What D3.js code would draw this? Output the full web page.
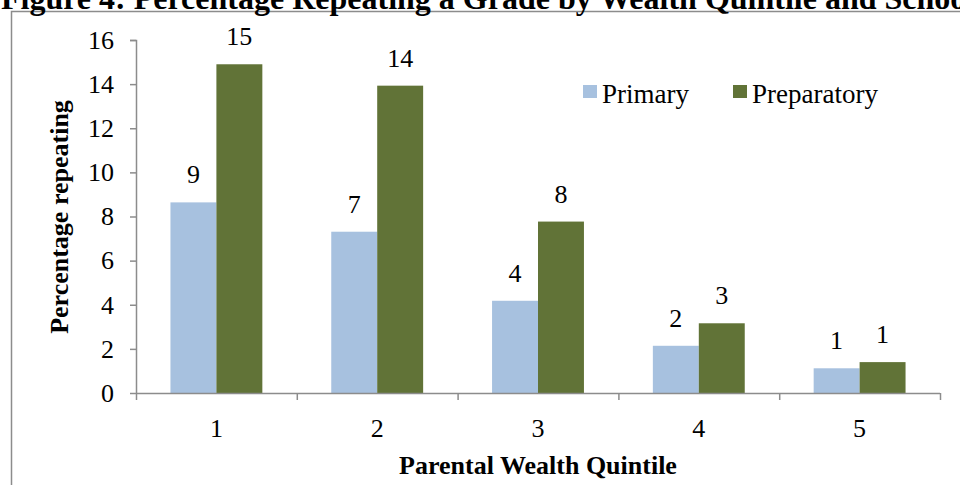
<!DOCTYPE html>
<html>
<head>
<meta charset="utf-8">
<script src="https://cdn.jsdelivr.net/npm/d3@7"></script>
<style>
  html, body { margin: 0; padding: 0; background: #fff; overflow: hidden; }
  svg { display: block; }
  text { font-family: "Liberation Serif", "Times New Roman", serif; fill: #000; }
</style>
</head>
<body>
<svg id="chart" width="960" height="485"></svg>
<script>
const titleText = "Figure 4: Percentage Repeating a Grade by Wealth Quintile and School";
const categories = ["1", "2", "3", "4", "5"];
const seriesNames = ["Primary", "Preparatory"];
const primaryValues = [8.64, 7.31, 4.18, 2.14, 1.12];
const preparatoryValues = [14.9, 13.93, 7.77, 3.16, 1.4];
const yTicks = [0, 2, 4, 6, 8, 10, 12, 14, 16];
const yAxisTitle = "Percentage repeating";
const xAxisTitle = "Parental Wealth Quintile";
const colors = ["#A7C1DF", "#617337"];

const svg = d3.select("#chart");
const gridColor = "#8c8c8c";

// frame
svg.append("rect").attr("x", 11.5).attr("y", 11.5).attr("width", 1000).attr("height", 500)
  .attr("fill", "none").attr("stroke", gridColor).attr("stroke-width", 1.5);

// title (cut off at top, as in reference)
svg.append("text").attr("x", 1).attr("y", 9)
  .attr("font-size", 32).attr("font-weight", "bold").text(titleText);

const x = d3.scaleBand().domain(categories).range([136, 940]).paddingInner(0).paddingOuter(0);
const xs = d3.scaleBand().domain(seriesNames).range([0, x.bandwidth()]).paddingInner(0).paddingOuter(0.75);
const y = d3.scaleLinear().domain([0, 16]).range([393, 40]);

// y axis
const yAxis = svg.append("g").attr("transform", "translate(136,0)")
  .call(d3.axisLeft(y).tickValues(yTicks).tickSize(6).tickPadding(16).tickFormat(d3.format("d")));
yAxis.select(".domain").attr("stroke", gridColor).attr("stroke-width", 1.5).attr("d", "M-6,40.5H0.5V393.5");
yAxis.selectAll(".tick line").attr("stroke", gridColor).attr("stroke-width", 1.5);
yAxis.selectAll(".tick text").attr("font-size", 26).attr("font-family", "Liberation Serif, Times New Roman, serif").attr("fill", "#000");

// bars
const data = categories.map((c, i) => ({ cat: c, vals: [primaryValues[i], preparatoryValues[i]] }));
const groups = svg.append("g").selectAll("g").data(data).join("g")
  .attr("transform", d => `translate(${x(d.cat)},0)`);
groups.selectAll("rect").data(d => d.vals.map((v, j) => ({ s: seriesNames[j], v, j })))
  .join("rect")
  .attr("x", d => xs(d.s))
  .attr("width", xs.bandwidth())
  .attr("y", d => y(d.v))
  .attr("height", d => y(0) - y(d.v))
  .attr("fill", d => colors[d.j]);
groups.selectAll("text").data(d => d.vals.map((v, j) => ({ s: seriesNames[j], v, j })))
  .join("text")
  .attr("x", d => xs(d.s) + xs.bandwidth() / 2)
  .attr("y", d => y(d.v) - 19)
  .attr("text-anchor", "middle")
  .attr("font-size", 26)
  .text(d => d3.format(".0f")(d.v));

// x axis
const xAxisG = svg.append("g").attr("transform", "translate(0,393)");
xAxisG.append("line").attr("x1", 136).attr("x2", 940).attr("y1", 0.5).attr("y2", 0.5)
  .attr("stroke", gridColor).attr("stroke-width", 1.5);
const boundaries = categories.map(c => x(c)).concat([x(categories[categories.length - 1]) + x.bandwidth()]);
xAxisG.selectAll(".xt").data(boundaries).join("line").attr("class", "xt")
  .attr("x1", d => d + 0.5).attr("x2", d => d + 0.5).attr("y1", 0).attr("y2", 7)
  .attr("stroke", gridColor).attr("stroke-width", 1.5);
xAxisG.selectAll(".xl").data(categories).join("text").attr("class", "xl")
  .attr("x", d => x(d) + x.bandwidth() / 2).attr("y", 44)
  .attr("text-anchor", "middle").attr("font-size", 26).text(d => d);

// axis titles
svg.append("text").attr("x", 538).attr("y", 474).attr("text-anchor", "middle")
  .attr("font-size", 26).attr("font-weight", "bold").text(xAxisTitle);
svg.append("text").attr("transform", "translate(68,217) rotate(-90)").attr("text-anchor", "middle")
  .attr("font-size", 26).attr("font-weight", "bold").text(yAxisTitle);

// legend
const legendX = [583, 733];
const leg = svg.append("g").selectAll("g").data(seriesNames).join("g")
  .attr("transform", (d, i) => `translate(${legendX[i]},85)`);
leg.append("rect").attr("width", 14).attr("height", 13).attr("fill", (d, i) => colors[i]);
leg.append("text").attr("x", 19).attr("y", 18).attr("font-size", 27).text(d => d);
</script>
</body>
</html>
